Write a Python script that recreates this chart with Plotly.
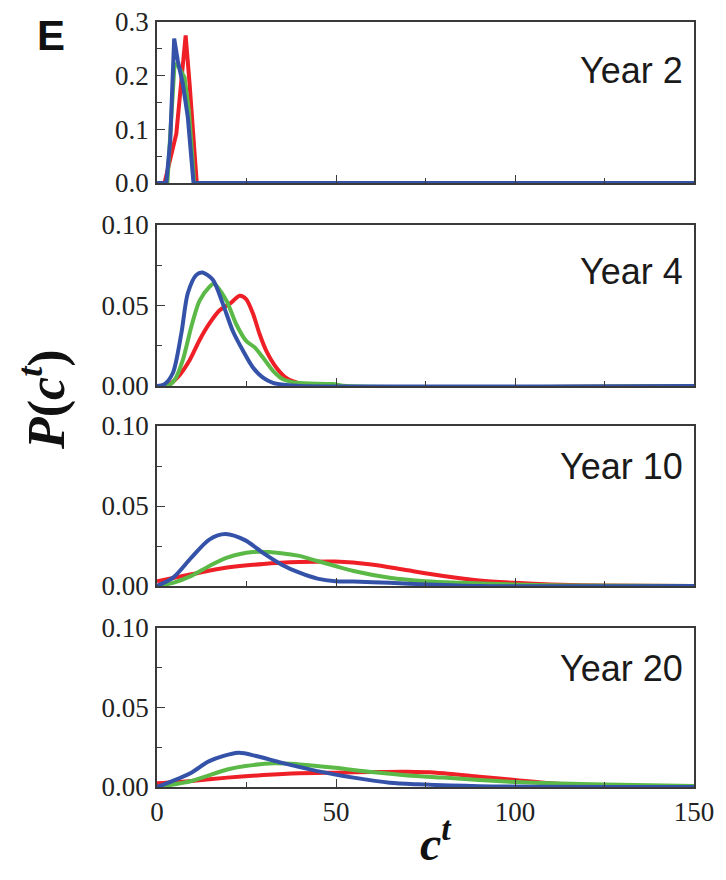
import plotly.graph_objects as go

# ---------------- data ----------------
# Year 2
Y2_RED_X = [0, 2.1, 5.4, 6.8, 8.0, 9.1, 10.3, 11.1, 150]
Y2_RED_Y = [0, 0, 0.092, 0.185, 0.275, 0.185, 0.08, 0, 0]
Y2_GREEN_X = [0, 2.9, 4.0, 4.9, 5.8, 7.7, 8.9, 9.8, 10.4, 150]
Y2_GREEN_Y = [0, 0, 0.123, 0.222, 0.219, 0.197, 0.135, 0.055, 0, 0]
Y2_BLUE_X = [0, 2.6, 3.7, 4.4, 4.8, 5.8, 7.2, 8.6, 9.6, 10.2, 150]
Y2_BLUE_Y = [0, 0, 0.08, 0.24, 0.269, 0.228, 0.185, 0.123, 0.055, 0, 0]

# Year 4
Y4_RED_X = [0, 3.0, 6.0, 9.1, 11.9, 14.7, 17.5, 20.3, 23.1, 24.9, 26.8, 28.7, 30.5, 33.3, 36.1, 39.9, 44, 150]
Y4_RED_Y = [0, 0.0005, 0.006, 0.016, 0.0286, 0.039, 0.047, 0.051, 0.056, 0.054, 0.045, 0.032, 0.022, 0.0115, 0.005, 0.0015, 0, 0]
Y4_GREEN_X = [0, 3.0, 5.0, 7.2, 9.6, 11.9, 14.7, 15.8, 19.4, 22.1, 24.9, 27.3, 29.6, 32.4, 35.2, 38.9, 49, 53, 150]
Y4_GREEN_Y = [0, 0, 0.004, 0.016, 0.037, 0.053, 0.0617, 0.0635, 0.053, 0.0385, 0.028, 0.024, 0.0177, 0.0094, 0.0042, 0.002, 0.0012, 0, 0]
Y4_BLUE_X = [0, 2.0, 4.4, 6.8, 8.6, 11.0, 12.7, 15.6, 18.4, 21.2, 24.0, 26.8, 29.6, 32.4, 36.0, 40, 150]
Y4_BLUE_Y = [0, 0.001, 0.0079, 0.0327, 0.0576, 0.069, 0.0705, 0.066, 0.051, 0.034, 0.022, 0.0115, 0.0052, 0.002, 0.0006, 0, 0]

# Year 10
Y10_RED_X = [0, 9.6, 19.6, 29.7, 39.8, 49.8, 59.9, 70, 80, 90, 100, 110, 125, 150]
Y10_RED_Y = [0.003, 0.0073, 0.0115, 0.0138, 0.015, 0.0153, 0.0135, 0.0098, 0.0063, 0.0035, 0.002, 0.001, 0.0003, 0]
Y10_GREEN_X = [0, 4.5, 9.6, 14.6, 19.6, 26.7, 34.7, 39.8, 44.8, 49.8, 54.9, 65, 75, 85, 100, 115, 150]
Y10_GREEN_Y = [0, 0.002, 0.0063, 0.0125, 0.0177, 0.0212, 0.0205, 0.0188, 0.0156, 0.0125, 0.0094, 0.0052, 0.003, 0.002, 0.001, 0.0003, 0]
Y10_BLUE_X = [0, 4.5, 9.6, 14.6, 19.1, 24.7, 29.7, 34.7, 39.8, 44.8, 49.8, 54.9, 65, 75, 90, 150]
Y10_BLUE_Y = [0, 0.0052, 0.0177, 0.029, 0.0325, 0.0285, 0.0205, 0.0135, 0.0083, 0.0046, 0.003, 0.0028, 0.002, 0.001, 0, 0]

# Year 20
Y20_RED_X = [0, 9.6, 19.6, 29.7, 39.8, 49.8, 59.9, 70, 78, 90, 100, 110, 120, 150]
Y20_RED_Y = [0.0023, 0.0038, 0.0059, 0.0075, 0.0086, 0.009, 0.0094, 0.0096, 0.009, 0.0065, 0.0044, 0.0023, 0.001, 0]
Y20_GREEN_X = [0, 9.6, 19.6, 24.7, 32.7, 39.8, 49.8, 59.9, 70, 80, 90, 100, 110, 125, 150]
Y20_GREEN_Y = [0, 0.0038, 0.011, 0.0132, 0.0149, 0.0142, 0.0121, 0.0094, 0.0073, 0.0059, 0.0044, 0.0031, 0.0023, 0.0015, 0.0006]
Y20_BLUE_X = [0, 9.6, 14.6, 22.7, 27.7, 34.7, 44.8, 54.9, 65, 73, 90, 150]
Y20_BLUE_Y = [0, 0.009, 0.0163, 0.0215, 0.0195, 0.0153, 0.010, 0.0059, 0.0027, 0.0017, 0.0005, 0]

PANEL_LABELS = ["Year 2", "Year 4", "Year 10", "Year 20"]
X_TICKS = [0, 50, 100, 150]
X_MINOR = [25, 75, 125]
Y_TICKS_P1 = [0, 0.1, 0.2, 0.3]
Y_TEXT_P1 = ["0.0", "0.1", "0.2", "0.3"]
Y_MINOR_P1 = [0.05, 0.15, 0.25]
Y_TICKS = [0, 0.05, 0.10]
Y_TEXT = ["0.00", "0.05", "0.10"]
Y_MINOR = [0.025, 0.075]

# ---------------- styling ----------------
RED = "#ee1f26"
GREEN = "#5bb947"
BLUE = "#3452a8"
FRAME = "#3a3a3a"
SERIF = "Liberation Serif, Times New Roman, serif"
SANS = "Liberation Sans, Arial, sans-serif"

OFF = 8                     # default page body margin (all sides)
W, H = 726 - 2 * OFF, 880 - 2 * OFF
ML = 157 - OFF
MR = W - (694 - OFF)
PW = W - ML - MR


def py(y):                   # reference pixel y -> figure pixel y
    return y - OFF


def px(x):
    return x - OFF


# panel pixel extents (top, bottom) in reference pixels
PANELS_PX = [(22, 183), (225, 386), (426, 586), (628, 787)]
LABEL_Y = [0.70, 0.71, 0.745, 0.748]

series = [
    [(Y2_RED_X, Y2_RED_Y, RED), (Y2_GREEN_X, Y2_GREEN_Y, GREEN), (Y2_BLUE_X, Y2_BLUE_Y, BLUE)],
    [(Y4_RED_X, Y4_RED_Y, RED), (Y4_GREEN_X, Y4_GREEN_Y, GREEN), (Y4_BLUE_X, Y4_BLUE_Y, BLUE)],
    [(Y10_RED_X, Y10_RED_Y, RED), (Y10_GREEN_X, Y10_GREEN_Y, GREEN), (Y10_BLUE_X, Y10_BLUE_Y, BLUE)],
    [(Y20_RED_X, Y20_RED_Y, RED), (Y20_GREEN_X, Y20_GREEN_Y, GREEN), (Y20_BLUE_X, Y20_BLUE_Y, BLUE)],
]

fig = go.Figure()
layout = dict(
    width=W, height=H,
    margin=dict(l=ML, r=MR, t=0, b=0, pad=0),
    paper_bgcolor="white", plot_bgcolor="white",
    showlegend=False,
)

for i in range(4):
    n = "" if i == 0 else str(i + 1)
    xref, yref = "x" + n, "y" + n
    for xs, ys, col in series[i]:
        fig.add_trace(go.Scatter(
            x=xs, y=ys, mode="lines", xaxis=xref, yaxis=yref,
            line=dict(color=col, width=4,
                      shape="linear" if i == 0 else "spline", smoothing=0.8),
            hoverinfo="skip",
        ))
    top, bot = PANELS_PX[i]
    dom = [1 - py(bot) / H, 1 - py(top) / H]
    layout["xaxis" + n] = dict(
        domain=[0, 1], anchor=yref, range=[0, 150],
        tickvals=X_TICKS, ticks="inside", ticklen=8, tickwidth=1.2, tickcolor=FRAME,
        minor=dict(tickvals=X_MINOR, ticks="inside", ticklen=5, tickwidth=1.2, tickcolor=FRAME),
        showticklabels=(i == 3),
        tickfont=dict(family=SERIF, size=27, color="#222"),
        ticklabeloverflow="allow",
        showline=True, mirror=True, linecolor=FRAME, linewidth=1.5,
        showgrid=False, zeroline=False, automargin=False,
    )
    if i == 0:
        tv, tt, mv, rng = Y_TICKS_P1, Y_TEXT_P1, Y_MINOR_P1, [0, 0.3]
    else:
        tv, tt, mv, rng = Y_TICKS, Y_TEXT, Y_MINOR, [0, 0.10]
    layout["yaxis" + n] = dict(
        domain=dom, anchor=xref, range=rng,
        tickvals=tv, ticktext=tt, ticks="inside", ticklen=8, tickwidth=1.2, tickcolor=FRAME,
        minor=dict(tickvals=mv, ticks="inside", ticklen=5, tickwidth=1.2, tickcolor=FRAME),
        tickfont=dict(family=SERIF, size=27, color="#222"),
        ticklabelstandoff=1, ticklabeloverflow="allow",
        showline=True, mirror=True, linecolor=FRAME, linewidth=1.5,
        showgrid=False, zeroline=False, automargin=False,
    )

annotations = []
for i, lab in enumerate(PANEL_LABELS):
    n = "" if i == 0 else str(i + 1)
    annotations.append(dict(
        text=lab, xref="x" + n + " domain", yref="y" + n + " domain",
        x=0.984, y=LABEL_Y[i], xanchor="right", yanchor="middle",
        showarrow=False, font=dict(family=SANS, size=36, color="#1a1a1a"),
    ))

annotations.append(dict(
    text="<b>E</b>", xref="paper", yref="paper",
    x=(px(51) - ML) / PW, y=1 - py(35) / H, xanchor="center", yanchor="middle",
    showarrow=False, font=dict(family=SANS, size=42, color="#111"),
))
annotations.append(dict(
    text="<b><i>P</i>(<i>c</i><sup><i>t</i></sup>)</b>", xref="paper", yref="paper",
    x=(px(43) - ML) / PW, y=1 - py(400) / H, xanchor="center", yanchor="middle",
    textangle=-90, showarrow=False, font=dict(family=SERIF, size=52, color="#111"),
))
annotations.append(dict(
    text="<b><i>c</i><sup><i>t</i></sup></b>", xref="paper", yref="paper",
    x=(px(436) - ML) / PW, y=1 - py(840) / H, xanchor="center", yanchor="middle",
    showarrow=False, font=dict(family=SERIF, size=48, color="#111"),
))
layout["annotations"] = annotations

fig.update_layout(**layout)
fig.write_html("out.html")
